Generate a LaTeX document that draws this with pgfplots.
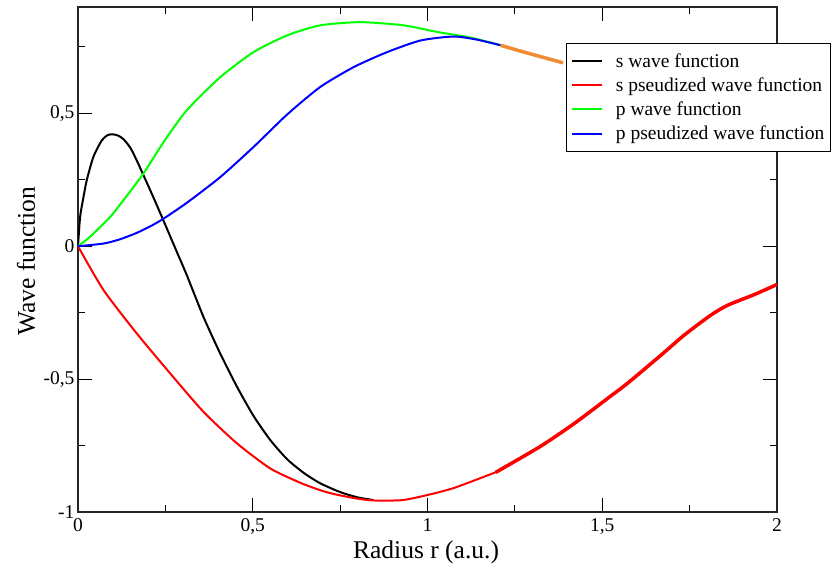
\documentclass[border=0pt]{standalone}
\usepackage{pgfplots}
\pgfplotsset{compat=1.18}
\usepackage{fontspec}
\setmainfont{Liberation Serif}
\definecolor{myorange}{RGB}{240,140,50}
\begin{document}
\begin{tikzpicture}
\begin{axis}[
  width=699pt, height=505pt, scale only axis,
  xmin=0, xmax=2, ymin=-1, ymax=0.9,
  xtick={0,0.5,1,1.5,2}, xticklabels={0,{0,5},1,{1,5},2},
  ytick={-1,-0.5,0,0.5}, yticklabels={-1,{-0,5},0,{0,5}},
  minor xtick={0.25,0.75,1.25,1.75},
  minor ytick={-0.75,-0.25,0.25,0.75},
  tick align=inside, xtick pos=both, ytick pos=both,
  xticklabel pos=left, yticklabel pos=left,
  major tick length=14pt, minor tick length=7pt,
  every tick/.style={black, line width=1.1pt},
  axis line style={black!85, line width=1.2pt},
  ticklabel style={font=\fontsize{19.5}{23}\selectfont},
  xticklabel style={yshift=-3pt},
  xlabel={Radius r (a.u.)}, ylabel={Wave function},
  label style={font=\fontsize{25.5}{29}\selectfont},
  xlabel style={at={(rel axis cs:0.498,0)}, anchor=center, yshift=-40pt},
  ylabel style={at={(rel axis cs:-0.0744,0.497)}, anchor=center},
  legend style={at={(rel axis cs:0.698,0.929)}, anchor=north west,
    draw=black, line width=1pt, fill=white,
    font=\fontsize{19.5}{23.5}\selectfont,
    inner xsep=5pt, inner ysep=8.5pt, row sep=6pt,
    nodes={inner sep=1.5pt},
    /tikz/every odd column/.append style={column sep=11pt}},
  legend cell align=left,
  legend image code/.code={\draw[#1] (0pt,0pt) -- (30pt,0pt);},
  clip=true,
]
\coordinate (sw) at (rel axis cs:0,0);
\coordinate (ne) at (rel axis cs:1,1);
\addplot[black, line width=2pt, smooth, tension=0.4] coordinates {
(0,0) (0.006,0.11) (0.015,0.18) (0.025,0.248) (0.044,0.336) (0.068,0.398)
(0.085,0.418) (0.1,0.421) (0.115,0.416) (0.13,0.403) (0.15,0.37)
(0.168,0.323) (0.187,0.268) (0.216,0.183) (0.244,0.098) (0.283,-0.022)
(0.311,-0.108) (0.359,-0.266) (0.407,-0.404) (0.455,-0.529) (0.502,-0.638)
(0.55,-0.729) (0.598,-0.801) (0.646,-0.853) (0.693,-0.892) (0.75,-0.925)
(0.8,-0.945) (0.845,-0.955)};
\addlegendentry{s wave function}
\addplot[red, line width=2pt, smooth, tension=0.4] coordinates {
(0,0) (0.073,-0.165) (0.168,-0.328) (0.264,-0.479) (0.359,-0.623)
(0.455,-0.742) (0.55,-0.836) (0.636,-0.89) (0.693,-0.918) (0.734,-0.933)
(0.8,-0.95) (0.852,-0.957) (0.93,-0.955) (1.0,-0.936) (1.077,-0.909)
(1.2,-0.848)};
\addlegendentry{s pseudized wave function}
\addplot[green, line width=2pt, smooth, tension=0.4] coordinates {
(0,0) (0.034,0.035) (0.092,0.11) (0.13,0.173) (0.187,0.273) (0.244,0.39)
(0.311,0.511) (0.407,0.636) (0.502,0.73) (0.598,0.793) (0.693,0.831)
(0.808,0.843) (0.932,0.831) (1.028,0.806) (1.123,0.785) (1.209,0.756)};
\addlegendentry{p wave function}
\addplot[blue, line width=2pt, smooth, tension=0.4] coordinates {
(0,0) (0.073,0.01) (0.12,0.026) (0.168,0.05) (0.21,0.077) (0.244,0.103)
(0.311,0.163) (0.407,0.26) (0.502,0.373) (0.598,0.495) (0.693,0.599)
(0.789,0.674) (0.884,0.73) (0.98,0.774) (1.075,0.789) (1.142,0.777)
(1.209,0.756)};
\addlegendentry{p pseudized wave function}
\addplot[red, line width=3.5pt, smooth, tension=0.4, forget plot] coordinates {
(1.195,-0.851) (1.322,-0.754) (1.42,-0.667) (1.518,-0.57) (1.572,-0.516)
(1.668,-0.41) (1.734,-0.335) (1.811,-0.259) (1.859,-0.222) (1.935,-0.182)
(2.0,-0.144)};
\addplot[myorange, line width=3.5pt, forget plot] coordinates {
(1.209,0.756) (1.266,0.734) (1.388,0.69)};
\end{axis}
\pgfresetboundingbox
\path ([shift={(-78pt,-55pt)}]sw) rectangle ([shift={(59pt,7pt)}]ne);
\end{tikzpicture}
\end{document}
